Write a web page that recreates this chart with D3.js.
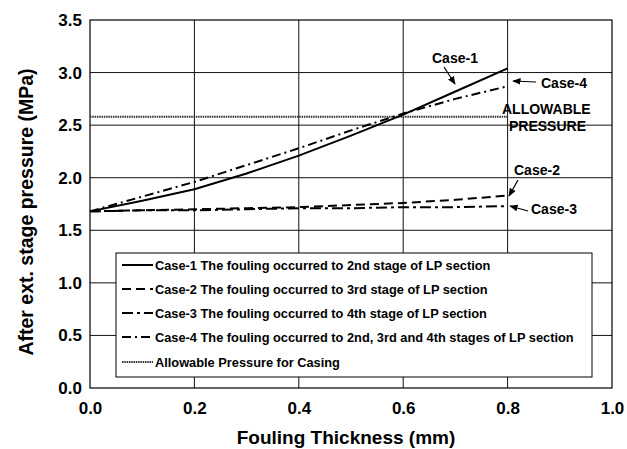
<!DOCTYPE html>
<html><head><meta charset="utf-8">
<script src="https://cdn.jsdelivr.net/npm/d3@7"></script>
<style>body{margin:0;background:#fff}svg{display:block}text{font-family:"Liberation Sans",Arial,sans-serif;font-weight:bold;fill:#000}</style>
</head><body><svg id="c" width="627" height="449"></svg>
<script>
const thickness = [0, 0.1, 0.2, 0.3, 0.4, 0.5, 0.6, 0.7, 0.8];
const case1 = [1.68, 1.78, 1.89, 2.04, 2.21, 2.40, 2.60, 2.82, 3.04];
const case2 = [1.68, 1.69, 1.70, 1.71, 1.72, 1.74, 1.76, 1.79, 1.83];
const case3 = [1.68, 1.69, 1.69, 1.70, 1.71, 1.71, 1.72, 1.72, 1.73];
const case4 = [1.68, 1.82, 1.96, 2.12, 2.28, 2.45, 2.61, 2.75, 2.87];
const allowableX = [0, 0.8];
const allowable = [2.58, 2.58];
const xTicks = [0, 0.2, 0.4, 0.6, 0.8, 1.0];
const yTicks = [0, 0.5, 1.0, 1.5, 2.0, 2.5, 3.0, 3.5];
const legendLabels = [
  "Case-1 The fouling occurred to 2nd stage of LP section",
  "Case-2 The fouling occurred to 3rd stage of LP section",
  "Case-3 The fouling occurred to 4th stage of LP section",
  "Case-4 The fouling occurred to 2nd, 3rd and 4th stages of LP section",
  "Allowable Pressure for Casing"
];

const svg = d3.select("#c");
const x = d3.scaleLinear().domain([0, 1]).range([90, 612]);
const y = d3.scaleLinear().domain([0, 3.5]).range([388, 20]);

// grid
const g = svg.append("g");
g.selectAll(".gy").data(yTicks.slice(1, -1)).join("line")
  .attr("x1", x(0)).attr("x2", x(1)).attr("y1", d => y(d)).attr("y2", d => y(d))
  .attr("stroke", "#111").attr("stroke-width", 1);
g.selectAll(".gx").data(xTicks.slice(1, -1)).join("line")
  .attr("y1", y(0)).attr("y2", y(3.5)).attr("x1", d => x(d)).attr("x2", d => x(d))
  .attr("stroke", "#111").attr("stroke-width", 1);
svg.append("rect").attr("x", x(0)).attr("y", y(3.5)).attr("width", x(1) - x(0)).attr("height", y(0) - y(3.5))
  .attr("fill", "none").attr("stroke", "#000").attr("stroke-width", 1.2);

// axes tick labels
const yAxis = d3.axisLeft(y).tickValues(yTicks).tickFormat(d3.format(".1f")).tickSize(0).tickPadding(8);
svg.append("g").attr("transform", `translate(${x(0)},0)`).call(yAxis)
  .call(s => s.select(".domain").remove())
  .selectAll("text").style("font-size", "17px").style("font-family", "Liberation Sans, Arial").style("font-weight", "bold");
const xAxis = d3.axisBottom(x).tickValues(xTicks).tickFormat(d3.format(".1f")).tickSize(0).tickPadding(14);
svg.append("g").attr("transform", `translate(0,${y(0)})`).call(xAxis)
  .call(s => s.select(".domain").remove())
  .selectAll("text").style("font-size", "17px").style("font-family", "Liberation Sans, Arial").style("font-weight", "bold");

svg.append("text").attr("x", 346).attr("y", 444).attr("text-anchor", "middle").style("font-size", "19px").text("Fouling Thickness (mm)");
svg.append("text").attr("transform", "translate(33,212) rotate(-90)").attr("text-anchor", "middle").style("font-size", "19.5px").text("After ext. stage pressure (MPa)");

// series
const line = d3.line().x(d => x(d[0])).y(d => y(d[1]));
const series = [
  {v: case1, dash: null, w: 2},
  {v: case2, dash: "9,5", w: 2},
  {v: case3, dash: "11,4,3,4", w: 2},
  {v: case4, dash: "9,4,2,4", w: 2}
];
svg.append("path").datum(allowableX.map((d, i) => [d, allowable[i]])).attr("d", line)
  .attr("fill", "none").attr("stroke", "#333").attr("stroke-width", 2).attr("stroke-dasharray", "1.5,0.8");
series.forEach(s => {
  svg.append("path").datum(thickness.map((d, i) => [d, s.v[i]])).attr("d", line)
    .attr("fill", "none").attr("stroke", "#000").attr("stroke-width", s.w)
    .attr("stroke-dasharray", s.dash);
});

// annotations
const defs = svg.append("defs");
defs.append("marker").attr("id", "ar").attr("viewBox", "0 0 10 10").attr("refX", 9).attr("refY", 5)
  .attr("markerWidth", 7).attr("markerHeight", 7).attr("orient", "auto")
  .append("path").attr("d", "M0,1 L10,5 L0,9 Z").attr("fill", "#000");
function arrow(x1, y1, x2, y2) {
  svg.append("line").attr("x1", x1).attr("y1", y1).attr("x2", x2).attr("y2", y2)
    .attr("stroke", "#000").attr("stroke-width", 1.2).attr("marker-end", "url(#ar)");
}
const ann = svg.append("g").style("font-size", "14px");
ann.append("text").attr("x", 432).attr("y", 63).text("Case-1");
arrow(444, 67, 455, 84);
ann.append("text").attr("x", 541).attr("y", 88).text("Case-4");
arrow(536, 82, 513, 81);
ann.append("text").attr("x", 502).attr("y", 114).style("font-size", "14px").text("ALLOWABLE");
ann.append("text").attr("x", 509).attr("y", 131).style("font-size", "14px").text("PRESSURE");
ann.append("text").attr("x", 514).attr("y", 175).text("Case-2");
arrow(518, 180, 509, 196);
ann.append("text").attr("x", 531).attr("y", 214).text("Case-3");
arrow(528, 211, 510, 206);

// legend
const lg = svg.append("g");
lg.append("rect").attr("x", 116).attr("y", 253).attr("width", 476).attr("height", 124)
  .attr("fill", "#fff").attr("stroke", "#000").attr("stroke-width", 1);
const legStyles = [
  {dash: null, c: "#000", w: 2},
  {dash: "9,5", c: "#000", w: 2},
  {dash: "11,4,3,4", c: "#000", w: 2},
  {dash: "9,4,2,4", c: "#000", w: 2},
  {dash: "1.5,0.8", c: "#333", w: 1.8}
];
const rowY = [265, 289, 313, 337, 362];
legendLabels.forEach((t, i) => {
  lg.append("line").attr("x1", 122).attr("x2", 153).attr("y1", rowY[i]).attr("y2", rowY[i])
    .attr("stroke", legStyles[i].c).attr("stroke-width", legStyles[i].w).attr("stroke-dasharray", legStyles[i].dash);
  lg.append("text").attr("x", 155).attr("y", rowY[i] + 4.5).style("font-size", "12.8px").text(t);
});
</script></body></html>
